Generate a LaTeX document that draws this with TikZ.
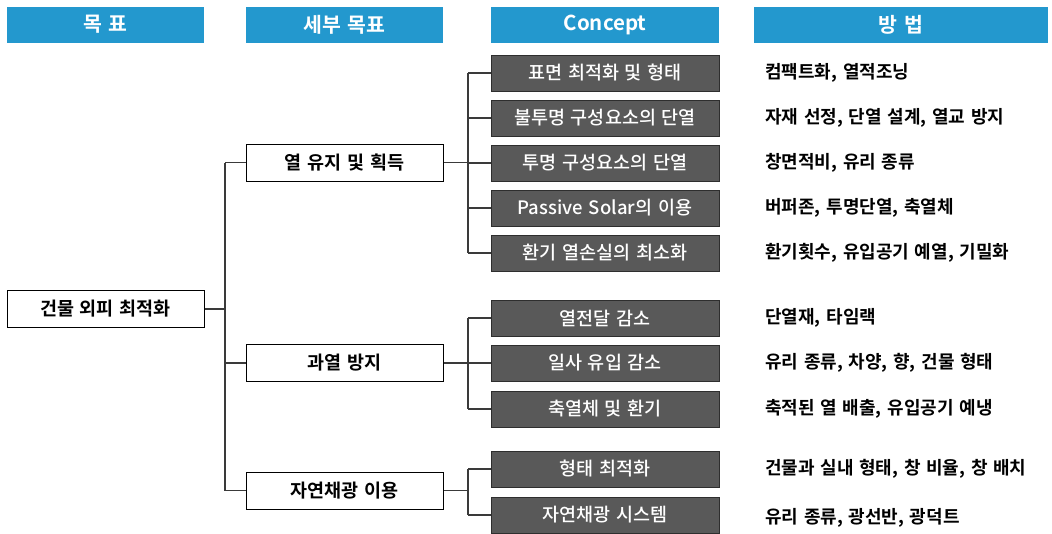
\documentclass[tikz,border=0pt]{standalone}
\usepackage{fontspec}
\setmainfont{Noto Sans CJK KR}[BoldFont={Noto Sans CJK KR Bold}, WordSpace=1.4]
\newfontfamily\medfont{Noto Sans CJK KR Medium}[WordSpace=1.4]
\definecolor{hdrblue}{HTML}{2398CE}
\definecolor{cboxfill}{HTML}{595959}
\definecolor{cboxdraw}{HTML}{2E2E2E}
\definecolor{connc}{HTML}{3A3A3A}
\tikzset{
  hdrbox/.style={fill=hdrblue, draw=none, minimum height=36pt, inner sep=0pt, text=white, font=\bfseries\fontsize{20.5}{20.5}\selectfont},
  wbox/.style={draw=black, line width=1pt, fill=white, minimum width=197pt, minimum height=37pt, inner sep=0pt, font=\bfseries\fontsize{18.5}{18.5}\selectfont},
  cbox/.style={draw=cboxdraw, line width=1pt, fill=cboxfill, minimum width=228pt, minimum height=36pt, inner sep=0pt, text=white, font=\medfont\fontsize{18.5}{18.5}\selectfont},
  meth/.style={anchor=west, inner sep=0pt, font=\bfseries\fontsize{18}{18}\selectfont},
  conn/.style={draw=connc, line width=1.1pt}
}
\begin{document}
\begin{tikzpicture}[x=1pt,y=-1pt]
\useasboundingbox (0,0) rectangle (1052,533);
% headers
\node[hdrbox, minimum width=197pt] (h1) at (105.5,24.5) {목 표};
\node[hdrbox, minimum width=197pt] (h2) at (344.5,24.5) {세부 목표};
\node[hdrbox, minimum width=228pt] (h3) at (605,24.5) {Concept};
\node[hdrbox, minimum width=294pt] (h4) at (901,25) {방 법};
% root
\node[wbox] (root) at (105.5,309) {건물 외피 최적화};
% mid
\node[wbox] (m1) at (344.5,162.5) {열 유지 및 획득};
\node[wbox] (m2) at (344.5,363) {과열 방지};
\node[wbox] (m3) at (344.5,490.5) {자연채광 이용};
% concepts
\node[cbox] (c1) at (605,73) {표면 최적화 및 형태};
\node[cbox] (c2) at (605,118) {불투명 구성요소의 단열};
\node[cbox] (c3) at (605,163) {투명 구성요소의 단열};
\node[cbox] (c4) at (605,208) {Passive Solar의 이용};
\node[cbox] (c5) at (605,253) {환기 열손실의 최소화};
\node[cbox] (c6) at (605,318) {열전달 감소};
\node[cbox] (c7) at (605,363) {일사 유입 감소};
\node[cbox] (c8) at (605,409) {축열체 및 환기};
\node[cbox] (c9) at (605,469) {형태 최적화};
\node[cbox] (c10) at (605,515) {자연채광 시스템};
% methods
\node[meth] (p1) at (765,73) {컴팩트화, 열적조닝};
\node[meth] (p2) at (765,118) {자재 선정, 단열 설계, 열교 방지};
\node[meth] (p3) at (765,163) {창면적비, 유리 종류};
\node[meth] (p4) at (765,208) {버퍼존, 투명단열, 축열체};
\node[meth] (p5) at (765,253) {환기횟수, 유입공기 예열, 기밀화};
\node[meth] (p6) at (765,318) {단열재, 타임랙};
\node[meth] (p7) at (765,363) {유리 종류, 차양, 향, 건물 형태};
\node[meth] (p8) at (765,409) {축적된 열 배출, 유입공기 예냉};
\node[meth] (p9) at (765,469) {건물과 실내 형태, 창 비율, 창 배치};
\node[meth] (p10) at (765,518) {유리 종류, 광선반, 광덕트};
% trunks
\coordinate (tA) at (225,0);
\coordinate (tB) at (468,0);
% root to mids
\draw[conn] (root.east) -- (root.east -| tA);
\draw[conn] (m1.west -| tA) -- (m3.west -| tA);
\foreach \m in {m1,m2,m3} \draw[conn] (\m.west -| tA) -- (\m.west);
% group 1
\draw[conn] (m1.east) -- (m1.east -| tB);
\draw[conn] (c1.west -| tB) -- (c5.west -| tB);
\foreach \c in {c1,c2,c3,c4,c5} \draw[conn] (\c.west -| tB) -- (\c.west);
% group 2
\draw[conn] (m2.east) -- (m2.east -| tB);
\draw[conn] (c6.west -| tB) -- (c8.west -| tB);
\foreach \c in {c6,c7,c8} \draw[conn] (\c.west -| tB) -- (\c.west);
% group 3
\draw[conn] (m3.east) -- (m3.east -| tB);
\draw[conn] (c9.west -| tB) -- (c10.west -| tB);
\foreach \c in {c9,c10} \draw[conn] (\c.west -| tB) -- (\c.west);
\end{tikzpicture}
\end{document}
